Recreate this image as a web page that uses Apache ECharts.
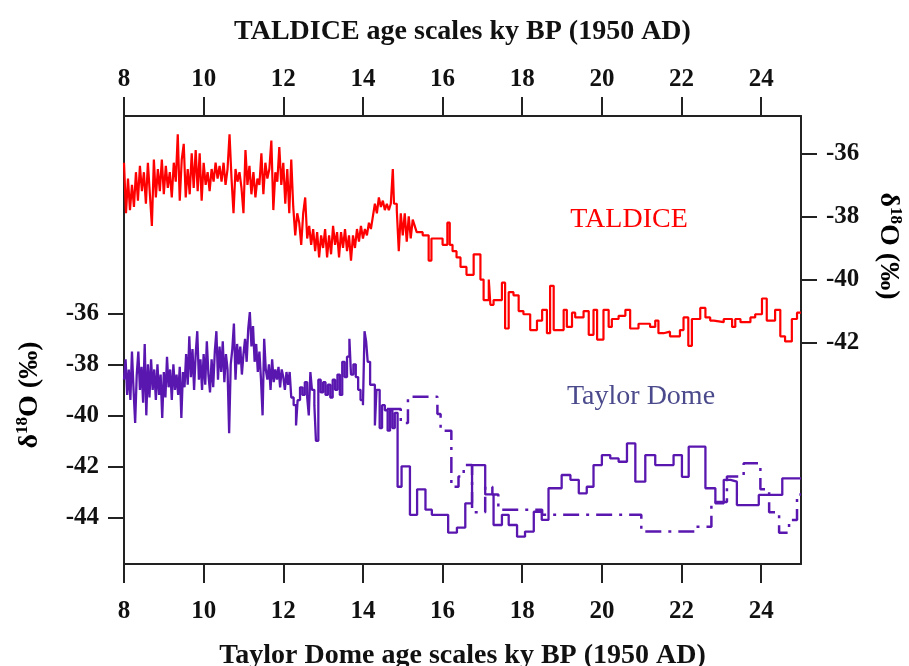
<!DOCTYPE html>
<html>
<head>
<meta charset="utf-8">
<script src="https://cdn.jsdelivr.net/npm/echarts@6/dist/echarts.min.js"></script>
<style>
  html, body { margin: 0; padding: 0; background: #fff; }
  #chart { width: 909px; height: 666px; }
</style>
</head>
<body>
<div id="chart"></div>
<script>
// age ticks shared by both x axes (ky BP)
const ageTicks = [8, 10, 12, 14, 16, 18, 20, 22, 24];
const leftTicks = [-44, -42, -40, -38, -36];
const rightTicks = [-42, -40, -38, -36];
const ageEnd = 25;

// TALDICE d18O, [start age, value] of each step
const taldice = [
  [8.00,-36.3],[8.05,-37.9],[8.10,-36.8],[8.15,-37.8],[8.20,-37.0],[8.25,-37.7],[8.30,-36.6],[8.35,-37.5],
  [8.40,-36.4],[8.45,-37.2],[8.50,-36.6],[8.55,-37.6],[8.60,-36.3],[8.65,-37.3],[8.70,-38.3],[8.75,-36.2],
  [8.80,-37.4],[8.85,-36.5],[8.90,-37.2],[8.95,-36.2],[9.00,-37.3],[9.05,-36.4],[9.10,-37.1],[9.15,-36.6],
  [9.20,-37.4],[9.25,-36.3],[9.30,-36.9],[9.35,-35.4],[9.40,-37.5],[9.45,-36.2],[9.50,-35.7],[9.55,-37.4],
  [9.60,-36.5],[9.65,-37.3],[9.70,-36.0],[9.75,-37.1],[9.80,-35.9],[9.85,-37.2],[9.90,-36.0],[9.95,-37.5],
  [10.00,-36.3],[10.05,-37.0],[10.10,-36.6],[10.15,-37.2],[10.20,-36.5],[10.25,-36.9],[10.30,-36.3],[10.35,-36.8],
  [10.40,-36.4],[10.45,-36.9],[10.50,-36.3],[10.55,-37.0],[10.60,-36.5],[10.65,-35.4],[10.70,-36.8],[10.75,-37.9],
  [10.80,-36.5],[10.85,-36.9],[10.90,-36.6],[10.95,-37.1],[11.00,-37.9],[11.05,-35.9],[11.10,-37.0],[11.15,-36.4],
  [11.20,-37.3],[11.25,-36.6],[11.30,-37.4],[11.35,-36.8],[11.40,-37.0],[11.45,-36.0],[11.50,-37.3],[11.55,-36.3],
  [11.60,-36.8],[11.65,-36.5],[11.70,-35.6],[11.75,-37.8],[11.80,-36.6],[11.85,-36.9],[11.90,-35.8],[11.95,-37.0],
  [12.00,-36.3],[12.05,-37.6],[12.10,-36.5],[12.15,-37.9],[12.20,-36.2],[12.25,-37.7],[12.30,-38.6],[12.35,-37.9],
  [12.40,-38.2],[12.45,-38.9],[12.50,-37.9],[12.55,-37.4],[12.60,-38.7],[12.65,-38.3],[12.70,-38.9],[12.75,-38.4],
  [12.80,-39.1],[12.85,-38.5],[12.90,-39.3],[12.95,-38.6],[13.00,-39.0],[13.05,-38.4],[13.10,-39.3],[13.15,-38.6],
  [13.20,-39.2],[13.25,-38.3],[13.30,-38.9],[13.35,-38.5],[13.40,-39.3],[13.45,-38.5],[13.50,-39.0],[13.55,-38.4],
  [13.60,-39.1],[13.65,-38.6],[13.70,-39.4],[13.75,-38.6],[13.80,-39.0],[13.85,-38.4],[13.90,-38.8],[13.95,-38.3],
  [14.00,-38.7],[14.05,-38.4],[14.10,-38.6],[14.15,-38.2],[14.20,-38.4],[14.25,-38.0],[14.30,-37.6],[14.35,-37.9],
  [14.40,-37.4],[14.45,-37.7],[14.50,-37.5],[14.55,-37.8],[14.60,-37.6],[14.65,-37.8],[14.70,-37.6],[14.75,-36.5],
  [14.78,-37.6],[14.85,-37.8],[14.90,-39.1],[14.95,-37.9],[15.00,-38.6],[15.05,-37.9],[15.10,-38.8],[15.15,-38.0],
  [15.20,-38.7],[15.25,-38.1],[15.30,-38.3],[15.35,-38.5],[15.50,-38.6],[15.65,-39.4],[15.72,-38.7],[15.85,-38.7],
  [16.00,-38.9],[16.12,-38.2],[16.18,-38.9],[16.25,-39.1],[16.35,-39.3],[16.45,-39.6],[16.60,-39.85],[16.78,-39.2],
  [16.95,-40.0],[17.03,-40.65],[17.16,-40.0],[17.20,-40.8],[17.28,-40.65],[17.49,-40.1],[17.57,-41.55],[17.66,-40.4],
  [17.78,-40.5],[17.91,-41.0],[18.03,-41.1],[18.20,-41.6],[18.37,-41.3],[18.50,-40.96],[18.62,-41.7],[18.70,-40.2],
  [18.79,-41.6],[19.04,-40.96],[19.12,-41.5],[19.25,-41.05],[19.33,-41.2],[19.54,-41.0],[19.67,-41.75],[19.79,-40.96],
  [19.88,-41.9],[20.04,-40.96],[20.17,-41.5],[20.25,-41.25],[20.42,-41.15],[20.59,-40.96],[20.71,-41.55],[20.92,-41.4],
  [21.21,-41.5],[21.34,-41.3],[21.42,-41.7],[21.55,-41.65],[21.71,-41.8],[21.96,-41.6],[22.05,-41.2],[22.17,-42.1],
  [22.26,-41.25],[22.47,-40.9],[22.60,-41.2],[22.72,-41.3],[22.81,-41.35],[23.06,-41.25],[23.27,-41.5],[23.35,-41.25],
  [23.48,-41.35],[23.73,-41.2],[23.85,-41.1],[24.02,-40.6],[24.14,-41.3],[24.35,-40.96],[24.48,-41.8],[24.60,-41.96],
  [24.77,-41.25],[24.90,-41.05]
];

// Taylor Dome d18O, solid curve
const taylorSolid = [
  [8.00,-38.6],[8.04,-37.8],[8.08,-39.2],[8.12,-38.2],[8.16,-39.4],[8.20,-37.5],[8.24,-39.0],[8.28,-40.3],
  [8.32,-38.4],[8.36,-37.5],[8.40,-39.0],[8.44,-38.1],[8.48,-39.5],[8.52,-37.2],[8.56,-40.0],[8.60,-38.0],
  [8.64,-39.3],[8.68,-37.8],[8.72,-39.0],[8.76,-38.2],[8.80,-39.4],[8.84,-38.0],[8.88,-39.2],[8.92,-38.4],
  [8.96,-40.1],[9.00,-38.3],[9.04,-39.3],[9.08,-37.7],[9.12,-38.9],[9.16,-38.2],[9.20,-39.4],[9.24,-38.0],
  [9.28,-39.0],[9.32,-38.4],[9.36,-39.2],[9.40,-38.1],[9.44,-40.1],[9.48,-38.3],[9.52,-38.9],[9.56,-37.6],
  [9.60,-38.8],[9.64,-36.9],[9.68,-38.5],[9.72,-37.4],[9.76,-39.0],[9.80,-37.6],[9.84,-36.7],[9.88,-38.6],
  [9.92,-37.8],[9.96,-39.0],[10.00,-37.6],[10.04,-38.8],[10.08,-37.1],[10.12,-38.4],[10.16,-39.1],[10.20,-37.8],
  [10.24,-38.9],[10.28,-37.5],[10.32,-36.7],[10.36,-38.6],[10.40,-37.3],[10.44,-38.3],[10.48,-37.1],[10.52,-38.7],
  [10.56,-37.6],[10.60,-38.2],[10.64,-40.7],[10.68,-38.0],[10.72,-37.4],[10.76,-36.4],[10.80,-38.6],[10.84,-37.2],
  [10.88,-38.0],[10.92,-37.3],[10.96,-38.4],[11.00,-37.6],[11.04,-37.0],[11.08,-37.9],[11.12,-36.6],[11.16,-35.95],
  [11.20,-37.3],[11.24,-36.5],[11.28,-37.9],[11.32,-37.2],[11.36,-38.3],[11.40,-37.5],[11.44,-38.6],[11.48,-40.0],
  [11.52,-37.0],[11.56,-38.2],[11.60,-38.6],[11.64,-38.0],[11.68,-39.0],[11.72,-37.8],[11.76,-38.7],[11.80,-38.2],
  [11.84,-38.6],[11.88,-38.1],[11.92,-38.9],[11.96,-38.2],[12.00,-38.5],[12.04,-39.0],[12.08,-38.3],[12.12,-38.8],
  [12.16,-38.3],[12.20,-39.3],[12.26,-39.6],[12.32,-40.4],[12.36,-39.4],[12.42,-38.9],[12.48,-39.2],[12.54,-38.7],
  [12.60,-39.3],[12.64,-40.0],[12.68,-38.3],[12.72,-39.0],[12.78,-39.6],[12.82,-41.0],[12.88,-38.6],[12.94,-39.1],
  [13.00,-38.7],[13.06,-39.2],[13.12,-38.8],[13.18,-39.3],[13.24,-38.6],[13.30,-39.0],[13.36,-38.4],[13.42,-39.2],
  [13.48,-37.9],[13.54,-38.5],[13.60,-37.7],[13.66,-37.0],[13.70,-38.4],[13.76,-38.0],[13.82,-38.5],[13.88,-39.0],
  [13.94,-39.4],[14.00,-39.6],[14.04,-36.7],[14.08,-37.1],[14.12,-37.9],[14.18,-38.8],[14.30,-40.4],[14.34,-39.0],
  [14.42,-40.5],[14.48,-39.6],[14.55,-39.8],[14.62,-40.6],[14.68,-39.8],[14.74,-40.5],[14.80,-39.9],[14.87,-42.8],
  [14.97,-42.0],[15.18,-43.9],[15.36,-42.9],[15.57,-43.7],[15.73,-43.9],[16.14,-44.6],[16.36,-44.4],[16.57,-43.45],
  [16.74,-41.95],[17.07,-43.1],[17.28,-44.3],[17.49,-43.9],[17.66,-44.3],[17.87,-44.76],[18.07,-44.56],[18.29,-43.78],
  [18.49,-44.1],[18.66,-42.86],[18.99,-42.34],[19.21,-42.53],[19.42,-43.06],[19.62,-42.8],[19.79,-41.95],[20.00,-41.56],
  [20.21,-41.69],[20.42,-41.82],[20.63,-41.1],[20.84,-42.6],[21.09,-41.56],[21.34,-41.95],[21.80,-41.56],[22.01,-42.41],
  [22.18,-41.23],[22.60,-42.86],[22.85,-43.45],[23.06,-42.53],[23.23,-42.6],[23.39,-43.52],[23.94,-43.12],[24.53,-42.47]
];

// Taylor Dome d18O, dashed curve
const taylorDashed = [
  [14.60,-39.75],[14.95,-40.3],[15.13,-39.27],[15.87,-39.95],[15.95,-40.6],[16.22,-42.8],[16.40,-42.4],[16.53,-41.95],
  [16.74,-43.8],[17.07,-42.8],[17.25,-43.1],[17.40,-43.7],[18.50,-43.9],[20.99,-44.56],[22.33,-44.37],[22.75,-43.4],
  [23.14,-42.4],[23.56,-41.88],[23.98,-42.9],[24.20,-43.8],[24.45,-44.6],[24.70,-44.1],[24.90,-43.1]
];

// turn [start, value] steps into a stair path
function stairs(steps, end) {
  const pts = [];
  for (let i = 0; i < steps.length; i++) {
    const x1 = i + 1 < steps.length ? steps[i + 1][0] : end;
    pts.push([steps[i][0], steps[i][1]], [x1, steps[i][1]]);
  }
  return pts;
}

const serif = 'Liberation Serif';
const axisColor = '#222';
const lblStyle = { fontFamily: serif, fontWeight: 'bold', fontSize: 25, color: '#111' };
const nameRich = {
  d: { fontFamily: serif, fontWeight: 'bold', fontSize: 28, color: '#111', lineHeight: 32 },
  s: { fontFamily: serif, fontWeight: 'bold', fontSize: 17, color: '#111', verticalAlign: 'top', lineHeight: 32 }
};

function ageAxis(pos, name, margin, gap) {
  return {
    type: 'value', position: pos, min: 8, max: ageEnd, interval: 2,
    axisLine: { show: true, onZero: false, lineStyle: { color: axisColor, width: 2 } },
    axisTick: { show: true, inside: false, length: 19, customValues: ageTicks, lineStyle: { color: axisColor, width: 2 } },
    axisLabel: Object.assign({ customValues: ageTicks, margin: margin }, lblStyle),
    splitLine: { show: false },
    name: name, nameLocation: 'middle', nameGap: gap,
    nameTextStyle: { fontFamily: serif, fontWeight: 'bold', fontSize: 28, color: '#111' }
  };
}

function d18Axis(pos, min, max, ticks) {
  return {
    type: 'value', position: pos, min: min, max: max,
    axisLine: { show: true, onZero: false, lineStyle: { color: axisColor, width: 2 } },
    axisTick: { show: true, inside: false, length: 16, customValues: ticks, lineStyle: { color: axisColor, width: 2 } },
    axisLabel: Object.assign({ customValues: ticks, margin: 25 }, lblStyle),
    splitLine: { show: false }
  };
}

const chart = echarts.init(document.getElementById('chart'));
chart.setOption({
  backgroundColor: '#fff',
  animation: false,
  grid: { left: 124, right: 108, top: 116, bottom: 102, containLabel: false, outerBoundsMode: 'none' },
  xAxis: [
    ageAxis('bottom', 'Taylor Dome age scales ky BP (1950 AD)', 35, 78),
    ageAxis('top', 'TALDICE age scales ky BP (1950 AD)', 24, 70)
  ],
  yAxis: [
    d18Axis('left', -45.83, -28.26, leftTicks),
    d18Axis('right', -49.01, -34.82, rightTicks)
  ],
  series: [
    {
      name: 'TALDICE', type: 'line', xAxisIndex: 1, yAxisIndex: 1,
      data: stairs(taldice, ageEnd), showSymbol: false, symbol: 'none',
      lineStyle: { color: '#ff0000', width: 2.2 }
    },
    {
      name: 'Taylor Dome', type: 'line', xAxisIndex: 0, yAxisIndex: 0,
      data: stairs(taylorSolid, ageEnd), showSymbol: false, symbol: 'none',
      lineStyle: { color: '#5a17b0', width: 2.3 }
    },
    {
      name: 'Taylor Dome (alt.)', type: 'line', xAxisIndex: 0, yAxisIndex: 0,
      data: stairs(taylorDashed, ageEnd), showSymbol: false, symbol: 'none',
      lineStyle: { color: '#5a17b0', width: 2.5, type: [16, 7, 3, 7] }
    }
  ],
  graphic: [
    {
      type: 'text', x: 30, y: 395, rotation: Math.PI / 2,
      style: { text: '{d|δ}{s|18}{d|O (‰)}', rich: nameRich, align: 'center', verticalAlign: 'middle' }
    },
    {
      type: 'text', x: 888, y: 246, rotation: -Math.PI / 2,
      style: { text: '{d|δ}{s|18}{d|O (‰)}', rich: nameRich, align: 'center', verticalAlign: 'middle' }
    },
    {
      type: 'text', x: 629, y: 220,
      style: { text: 'TALDICE', fontFamily: serif, fontSize: 28, fill: '#ff0000', align: 'center', verticalAlign: 'middle' }
    },
    {
      type: 'text', x: 641, y: 397,
      style: { text: 'Taylor Dome', fontFamily: serif, fontSize: 28, fill: '#4a4a8c', align: 'center', verticalAlign: 'middle' }
    }
  ]
});
</script>
</body>
</html>
